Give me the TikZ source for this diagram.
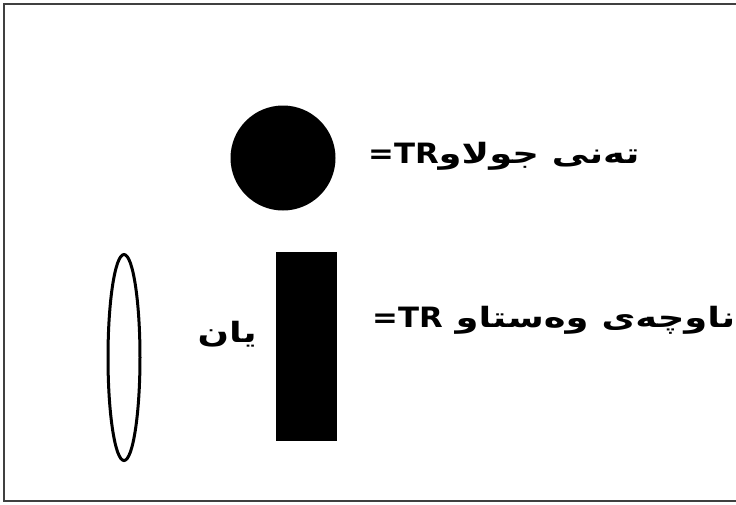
\documentclass[tikz,border=0pt]{standalone}
\usepackage{fontspec}
\TeXXeTstate=1
\newfontfamily\arabicfont[Script=Arabic, FakeStretch=1.32]{DejaVu Sans}
\newfontfamily\latinfont[FakeStretch=1.1]{DejaVu Sans}
\usetikzlibrary{shapes.geometric}

\begin{document}
\begin{tikzpicture}[x=1pt, y=-1pt,
    labeltext/.style={font=\arabicfont\bfseries\fontsize{28}{32}\selectfont, inner sep=0pt}]
    \useasboundingbox (0,0) rectangle (736,504);
    % frame of the figure
    \draw[line width=2.5pt, black!75] (4,4) rectangle (760,501);

    % moving body: filled circle with its label
    \node[circle, fill, minimum size=105pt, inner sep=0pt] (body) at (283,158) {};
    \node[labeltext, anchor=base west] (bodytext) at (368,163) {\beginR تەنی جولاو\beginL{\latinfont =TR}\endL\endR};

    % stationary region: filled bar, or an open ellipse
    \node[rectangle, fill, minimum width=61pt, minimum height=189pt, inner sep=0pt] (region) at (306.5,346.5) {};
    \node[ellipse, draw, line width=3pt, minimum width=32pt, minimum height=206pt, inner sep=0pt] (regionalt) at (124,357.5) {};
    \node[labeltext, anchor=base west] (regiontext) at (372,327) {\beginR ناوچەی وەستاو \beginL{\latinfont =TR}\endL\endR};
    \node[labeltext, anchor=base east] (ortext) at (257,342) {\beginR یان\endR};
\end{tikzpicture}
\end{document}
